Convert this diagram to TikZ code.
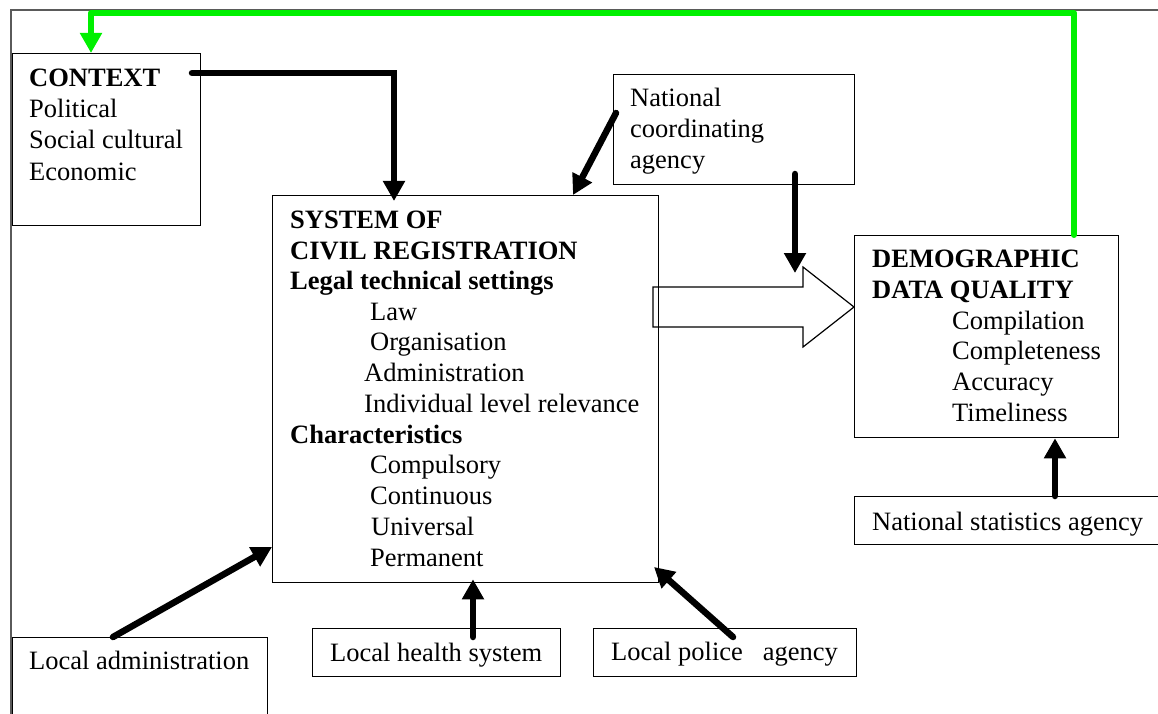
\documentclass[tikz,border=0pt]{standalone}
\usepackage{fontspec}
\setmainfont{Liberation Serif}
\usetikzlibrary{arrows.meta,calc}
\definecolor{loopgreen}{RGB}{0,240,0}
\definecolor{framegray}{RGB}{90,90,90}
\begin{document}
\begin{tikzpicture}[x=1pt,y=-1pt,
  box/.style={draw,line width=1.3pt,rectangle,inner sep=0pt,anchor=north west},
  txt/.style={anchor=base west,inner sep=0pt,font=\fontsize{26.5}{31}\selectfont},
  btxt/.style={txt,font=\fontsize{26.5}{31}\selectfont\bfseries},
  blk/.style={line width=6.5pt,line cap=round,-{Triangle[length=20pt,width=21pt]}},
  grn/.style={loopgreen,line width=6pt,line cap=round,line join=round,-{Triangle[length=20pt,width=21pt]}},
  hollow/.style={draw,line width=1.2pt,line join=miter}]
\useasboundingbox (0,0) rectangle (1158,714);
\clip (0,0) rectangle (1158,714);

% outer frame
\draw[framegray,line width=1.2pt] (11,714) -- (11,10) -- (1158,10);

% boxes
\node[box,minimum width=188pt,minimum height=172pt] (ctx) at (12,53) {};
\node[box,minimum width=386pt,minimum height=387pt] (sys) at (272,195) {};
\node[box,minimum width=241pt,minimum height=110pt] (nca) at (613,74) {};
\node[box,minimum width=264pt,minimum height=202pt] (ddq) at (854,235) {};
\node[box,minimum width=320pt,minimum height=48pt] (nsa) at (854,496) {};
\node[box,minimum width=255pt,minimum height=110pt] (lad) at (12,637) {};
\node[box,minimum width=248pt,minimum height=48pt] (lhs) at (312,628) {};
\node[box,minimum width=263pt,minimum height=48pt] (lpa) at (593,628) {};

% context
\node[btxt] (ctx-1) at (29,87) {CONTEXT};
\node[txt] (ctx-2) at (29,118) {Political};
\node[txt] (ctx-3) at (29,149) {Social cultural};
\node[txt] (ctx-4) at (29,180) {Economic};

% system of civil registration
\node[btxt] (sys-1) at (290,228) {SYSTEM OF};
\node[btxt] (sys-2) at (290,259) {CIVIL REGISTRATION};
\node[btxt] (sys-3) at (290,289) {Legal technical settings};
\node[txt] (sys-4) at (370,320) {Law};
\node[txt] (sys-5) at (370,350) {Organisation};
\node[txt] (sys-6) at (364,381) {Administration};
\node[txt] (sys-7) at (364,412) {Individual level relevance};
\node[btxt] (sys-8) at (290,443) {Characteristics};
\node[txt] (sys-9) at (370,473) {Compulsory};
\node[txt] (sys-10) at (370,504) {Continuous};
\node[txt] (sys-11) at (371,535) {Universal};
\node[txt] (sys-12) at (370,566) {Permanent};

% national coordinating agency
\node[txt] (nca-1) at (630,107) {National};
\node[txt] (nca-2) at (630,138) {coordinating};
\node[txt] (nca-3) at (630,168) {agency};

% demographic data quality
\node[btxt] (ddq-1) at (872,267) {DEMOGRAPHIC};
\node[btxt] (ddq-2) at (872,298) {DATA QUALITY};
\node[txt] (ddq-3) at (952,329) {Compilation};
\node[txt] (ddq-4) at (952,359) {Completeness};
\node[txt] (ddq-5) at (952,390) {Accuracy};
\node[txt] (ddq-6) at (952,421) {Timeliness};

% bottom agencies
\node[txt] (nsa-1) at (872,530) {National statistics agency};
\node[txt] (lad-1) at (29,669) {Local administration};
\node[txt] (lhs-1) at (330,661) {Local health system};
\node[txt] (lpa-1) at (611,660) {Local police\ \ \ agency};

% feedback loop
\coordinate (g1) at (1074,13);
\coordinate (g2) at (91,13);
\draw[grn] (ddq.north west -| g1) -- (g1) -- (g2) -- (ctx.north west -| g2);

% context into the system
\coordinate (c1) at (192,73);
\coordinate (c2) at (394,73);
\draw[blk] (c1) -- (c2) -- ($(sys.north west -| c2)+(0,6)$);

% national coordinating agency
\coordinate (n1) at (616,113);
\coordinate (n2) at (573,195);
\draw[blk] (n1) -- (n2);
\coordinate (n3) at (795,174);
\coordinate (n4) at (795,273);
\draw[blk] (n3) -- (n4);

% system feeds data quality
\draw[hollow] (653,287) -- (803,287) -- (803,267) -- (ddq.west |- 0,307)
  -- (803,347) -- (803,327) -- (653,327) -- cycle;

% national statistics agency
\coordinate (s1) at (1055,496);
\draw[blk] (s1) -- (ddq.south west -| s1);

% local agencies into the system
\coordinate (a1) at (113,637);
\coordinate (a2) at (272,547);
\draw[blk] (a1) -- (a2);
\coordinate (h1) at (473,637);
\draw[blk] (h1) -- ($(sys.south west -| h1)+(0,-4)$);
\coordinate (p1) at (733,637);
\coordinate (p2) at (654,567);
\draw[blk] (p1) -- (p2);
\end{tikzpicture}
\end{document}
